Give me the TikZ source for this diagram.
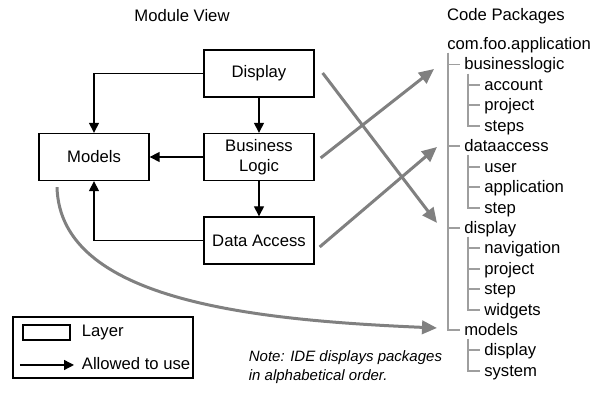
\documentclass[tikz,border=0pt]{standalone}
\usepackage{fontspec}
\setmainfont{Liberation Sans}
\usetikzlibrary{arrows.meta}
\tikzstyle{layer}=[draw,line width=0.8pt,minimum width=66pt,minimum height=28.2pt,align=center,inner sep=0pt]
\tikzstyle{uses}=[-{Triangle[length=6pt,width=6pt]},line width=0.8pt]
\tikzstyle{maps}=[-{Triangle[length=9pt,width=8pt]},gray,line width=1.8pt]
\tikzstyle{pkg}=[anchor=west,inner ysep=0pt,inner xsep=2.4pt,text height=1.5ex,text depth=.25ex]
\tikzstyle{tree}=[draw=black!38,line width=0.9pt]

\begin{document}
\begin{tikzpicture}[x=0.6pt,y=-0.6pt]
                  \useasboundingbox (0,0) rectangle (606,414);

                  \node (mvtitle) at (182,16) {Module View};
                  \node (cptitle) at (506,16) {Code Packages};

                  \node (disp) at (259,73.5) [layer] {Display};
                  \node (bl) at (259,157) [layer] {Business\\Logic};
                  \node (da) at (259,240.5) [layer] {Data Access};
                  \node (mod) at (94,157) [layer] {Models};

                  \draw [uses] (disp.west) -| (mod.north);
                  \draw [uses] (disp) -- (bl);
                  \draw [uses] (bl) -- (mod);
                  \draw [uses] (bl) -- (da);
                  \draw [uses] (da.west) -| (mod.south);

                  \node (root) at (443,44) [pkg] {com.foo.application};
                  \node (pbl) at (460,64.5) [pkg] {businesslogic};
                  \node (pacc) at (480,85) [pkg] {account};
                  \node (pproj) at (480,105) [pkg] {project};
                  \node (psteps) at (480,126) [pkg] {steps};
                  \node (pda) at (460,146) [pkg] {dataaccess};
                  \node (puser) at (480,167) [pkg] {user};
                  \node (papp) at (480,187) [pkg] {application};
                  \node (pstep) at (480,208) [pkg] {step};
                  \node (pdisp) at (460,228) [pkg] {display};
                  \node (pnav) at (480,248) [pkg] {navigation};
                  \node (pdproj) at (480,269) [pkg] {project};
                  \node (pdstep) at (480,289) [pkg] {step};
                  \node (pwid) at (480,310) [pkg] {widgets};
                  \node (pmod) at (460,330) [pkg] {models};
                  \node (pmdisp) at (480,350) [pkg] {display};
                  \node (psys) at (480,371) [pkg] {system};

                  \coordinate (t0) at (448,53);
                  \coordinate (t1) at (468,74);
                  \coordinate (t2) at (468,155);
                  \coordinate (t3) at (468,237);
                  \coordinate (t4) at (468,339);

                  \draw [tree] (t0) |- (pbl.west);
                  \draw [tree] (t0) |- (pda.west);
                  \draw [tree] (t0) |- (pdisp.west);
                  \draw [tree] (t0) |- (pmod.west);
                  \draw [tree] (t1) |- (pacc.west);
                  \draw [tree] (t1) |- (pproj.west);
                  \draw [tree] (t1) |- (psteps.west);
                  \draw [tree] (t2) |- (puser.west);
                  \draw [tree] (t2) |- (papp.west);
                  \draw [tree] (t2) |- (pstep.west);
                  \draw [tree] (t3) |- (pnav.west);
                  \draw [tree] (t3) |- (pdproj.west);
                  \draw [tree] (t3) |- (pdstep.west);
                  \draw [tree] (t3) |- (pwid.west);
                  \draw [tree] (t4) |- (pmdisp.west);
                  \draw [tree] (t4) |- (psys.west);

                  \coordinate (toBl) at (434,69);
                  \coordinate (toDa) at (437,147);
                  \coordinate (toDisp) at (437,223);
                  \coordinate (toMod) at (437,328);

                  \draw [maps] ([shift={(8,-0.5)}]disp.east) -- (toDisp);
                  \draw [maps] ([shift={(6,1)}]bl.east) -- (toBl);
                  \draw [maps] ([shift={(5,6.5)}]da.east) -- (toDa);
                  \draw [maps] ([shift={(-37,6)}]mod.south) .. controls (60,300) and (250,320) .. (toMod);

                  \node (legend) at (103,347.5) [draw,line width=0.8pt,minimum width=108pt,minimum height=36.6pt] {};
                  \node (legbox) at (46.5,332.5) [draw,line width=0.8pt,minimum width=28.2pt,minimum height=9pt,inner sep=0pt] {};
                  \node (leglayer) at (76,333) [anchor=west] {Layer};
                  \coordinate (lega) at (20,365);
                  \coordinate (legb) at (74,365);
                  \draw [uses] (lega) -- (legb);
                  \node (leguse) at (76,364) [anchor=west] {Allowed to use};

                  \node (note) at (243,367) [anchor=west,align=left,font=\itshape\small] {Note: IDE displays packages\\in alphabetical order.};
              \end{tikzpicture}
\end{document}
